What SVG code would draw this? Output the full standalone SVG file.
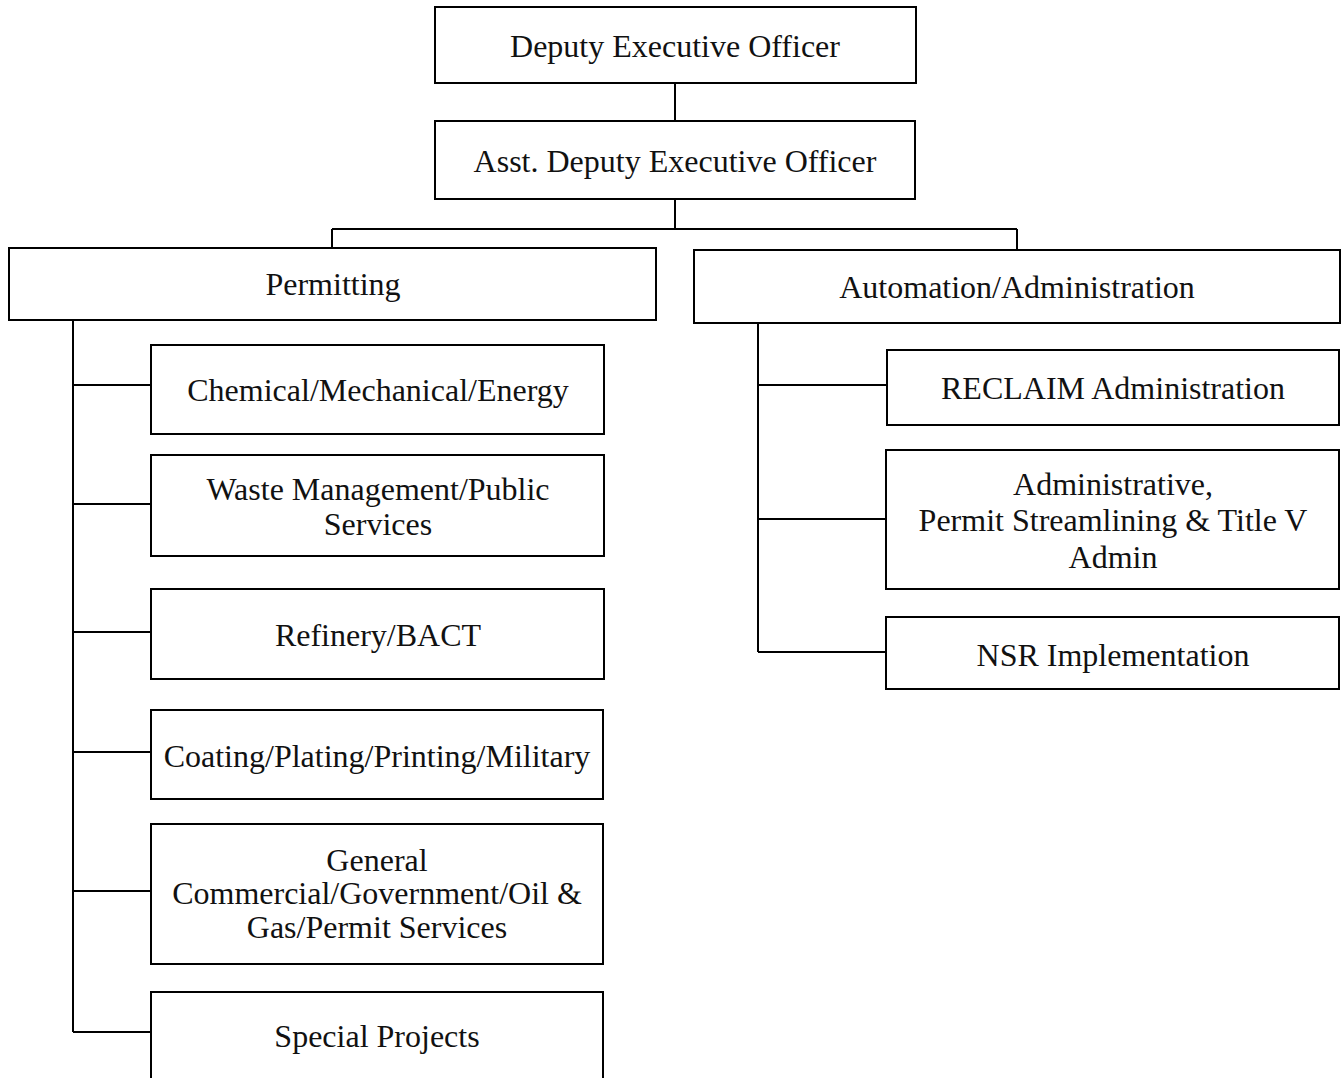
<svg xmlns="http://www.w3.org/2000/svg" width="1344" height="1078" viewBox="0 0 1344 1078">
<style>
.box{fill:#fff;stroke:#000;stroke-width:2}
.t{font-family:"Liberation Serif","Times New Roman",serif;font-size:32px;fill:#111;text-anchor:middle}
.c{fill:none;stroke:#000;stroke-width:2}
</style>
<rect width="1344" height="1078" fill="#fff"/>
<g id="connectors">
<path class="c" d="M675 83V121M675 199V229M332 229H1017M332 229V248M1017 229V250"/>
<path class="c" d="M73 320V1032M73 385H151M73 504H151M73 632H151M73 752H151M73 891H151M73 1032H151"/>
<path class="c" d="M758 323V652M758 385H887M758 519H886M758 652H886"/>
</g>
<g id="deo"><rect class="box" x="435" y="7" width="481" height="76"/><text class="t" x="675" y="57">Deputy Executive Officer</text></g>
<g id="adeo"><rect class="box" x="435" y="121" width="480" height="78"/><text class="t" x="675" y="172">Asst. Deputy Executive Officer</text></g>
<g id="permitting"><rect class="box" x="9" y="248" width="647" height="72"/><text class="t" x="333" y="295">Permitting</text></g>
<g id="automation"><rect class="box" x="694" y="250" width="646" height="73"/><text class="t" x="1017" y="298">Automation/Administration</text></g>
<g id="chemical"><rect class="box" x="151" y="345" width="453" height="89"/><text class="t" x="378" y="401">Chemical/Mechanical/Energy</text></g>
<g id="waste"><rect class="box" x="151" y="455" width="453" height="101"/><text class="t" x="378" y="500">Waste Management/Public</text><text class="t" x="378" y="535">Services</text></g>
<g id="refinery"><rect class="box" x="151" y="589" width="453" height="90"/><text class="t" x="378" y="646">Refinery/BACT</text></g>
<g id="coating"><rect class="box" x="151" y="710" width="452" height="89"/><text class="t" x="377" y="767">Coating/Plating/Printing/Military</text></g>
<g id="general"><rect class="box" x="151" y="824" width="452" height="140"/><text class="t" x="377" y="871">General</text><text class="t" x="377" y="904">Commercial/Government/Oil &amp;</text><text class="t" x="377" y="938">Gas/Permit Services</text></g>
<g id="special"><rect class="box" x="151" y="992" width="452" height="100"/><text class="t" x="377" y="1047">Special Projects</text></g>
<g id="reclaim"><rect class="box" x="887" y="350" width="452" height="75"/><text class="t" x="1113" y="399">RECLAIM Administration</text></g>
<g id="admin"><rect class="box" x="886" y="450" width="453" height="139"/><text class="t" x="1113" y="495">Administrative,</text><text class="t" x="1113" y="531">Permit Streamlining &amp; Title V</text><text class="t" x="1113" y="568">Admin</text></g>
<g id="nsr"><rect class="box" x="886" y="617" width="453" height="72"/><text class="t" x="1113" y="666">NSR Implementation</text></g>
</svg>
